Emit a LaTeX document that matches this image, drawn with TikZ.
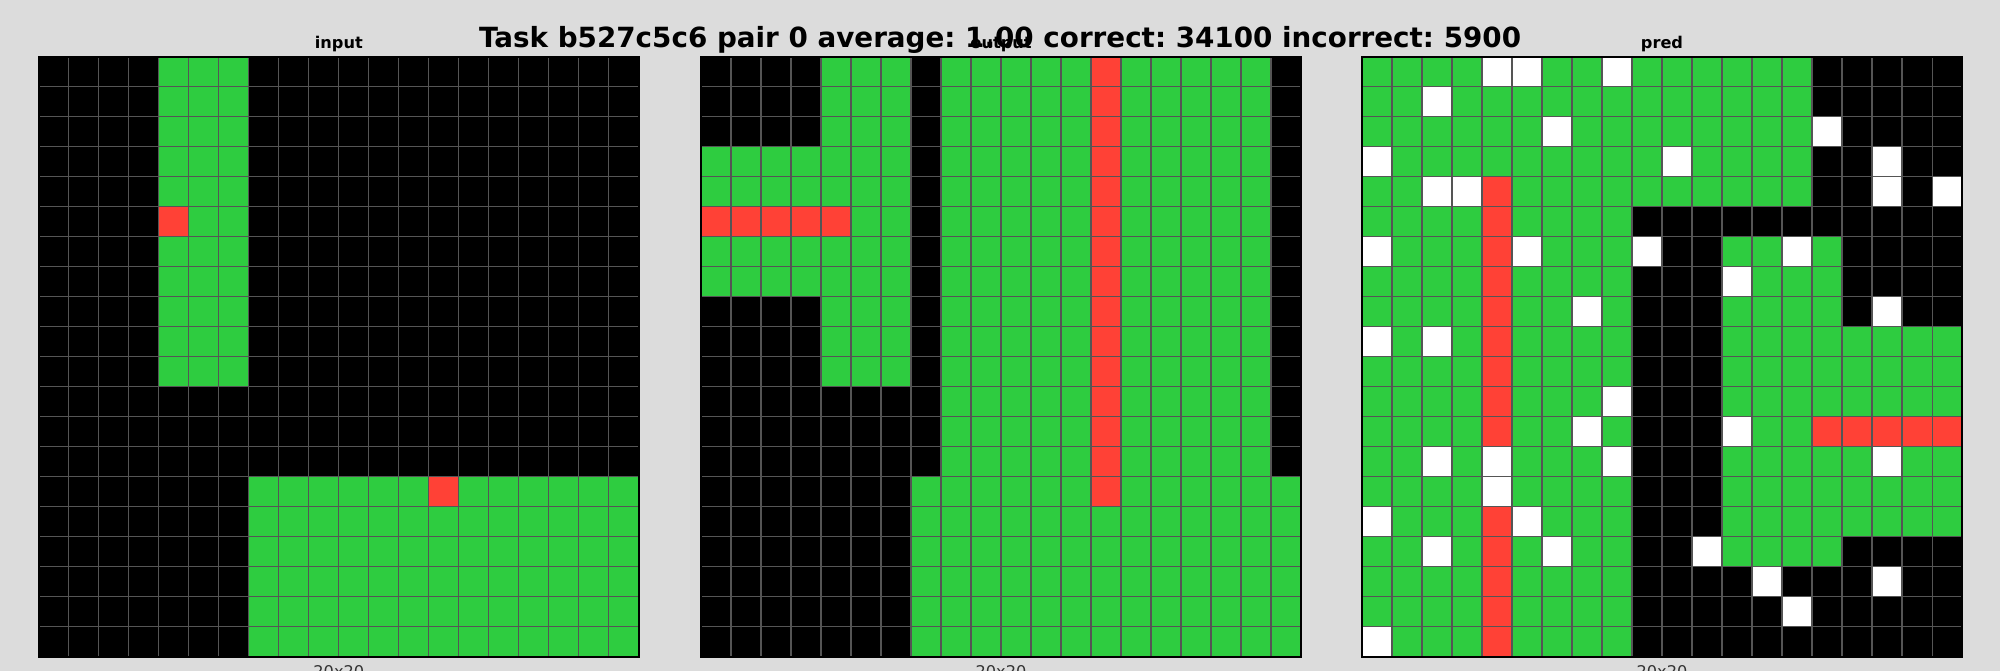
\documentclass[tikz,border=0pt]{standalone}
\usepackage{fontspec}
\setmainfont{DejaVu Sans}
\frenchspacing

\definecolor{fundo}{HTML}{DCDCDC}
\definecolor{linha}{HTML}{555555}
\definecolor{cK}{HTML}{000000}
\definecolor{cG}{HTML}{2ECC40}
\definecolor{cR}{HTML}{FF4136}
\definecolor{cW}{HTML}{FFFFFF}

% Grade 20x20: cada linha e uma lista de cores (K, G, R, W)
\newcommand{\grade}[1]{%
  \foreach \linhas [count=\i from 0] in {#1} {
    \foreach \cor [count=\j from 0] in \linhas
      \fill[c\cor] (\j*30,\i*30) rectangle ++(30,30);
  }
  \foreach \k in {0,...,20} {
    \draw[linhagrade] (\k*30,0) -- (\k*30,600);
    \draw[linhagrade] (0,\k*30) -- (600,\k*30);
  }
  \draw[bordagrade] (0,0) rectangle (600,600);
}

\begin{document}
\begin{tikzpicture}[x=0.01cm, y=-0.01cm]

  % ── Estilos ────────────────────────────────────────────
  \tikzset{
    linhagrade/.style = {draw=linha, line width=0.3pt},
    bordagrade/.style = {draw=black, line width=0.45pt},
    titulo/.style = {font=\fontsize{7.9}{9}\selectfont\bfseries, inner sep=0pt, anchor=base},
    subtitulo/.style = {font=\fontsize{4.6}{5.5}\selectfont\bfseries, inner sep=0pt, anchor=base},
    dimensao/.style = {font=\fontsize{4.6}{5.5}\selectfont, text=black!80, inner sep=0pt, anchor=base}
  }

  % Fundo e limites da figura
  \fill[fundo] (0,0) rectangle (2000,671);
  \clip (0,0) rectangle (2000,671);

  % =========================================================
  % 1. INPUT
  % =========================================================
  \begin{scope}[shift={(38.8,56.8)}]
    \grade{
      {K,K,K,K,G,G,G,K,K,K,K,K,K,K,K,K,K,K,K,K},
      {K,K,K,K,G,G,G,K,K,K,K,K,K,K,K,K,K,K,K,K},
      {K,K,K,K,G,G,G,K,K,K,K,K,K,K,K,K,K,K,K,K},
      {K,K,K,K,G,G,G,K,K,K,K,K,K,K,K,K,K,K,K,K},
      {K,K,K,K,G,G,G,K,K,K,K,K,K,K,K,K,K,K,K,K},
      {K,K,K,K,R,G,G,K,K,K,K,K,K,K,K,K,K,K,K,K},
      {K,K,K,K,G,G,G,K,K,K,K,K,K,K,K,K,K,K,K,K},
      {K,K,K,K,G,G,G,K,K,K,K,K,K,K,K,K,K,K,K,K},
      {K,K,K,K,G,G,G,K,K,K,K,K,K,K,K,K,K,K,K,K},
      {K,K,K,K,G,G,G,K,K,K,K,K,K,K,K,K,K,K,K,K},
      {K,K,K,K,G,G,G,K,K,K,K,K,K,K,K,K,K,K,K,K},
      {K,K,K,K,K,K,K,K,K,K,K,K,K,K,K,K,K,K,K,K},
      {K,K,K,K,K,K,K,K,K,K,K,K,K,K,K,K,K,K,K,K},
      {K,K,K,K,K,K,K,K,K,K,K,K,K,K,K,K,K,K,K,K},
      {K,K,K,K,K,K,K,G,G,G,G,G,G,R,G,G,G,G,G,G},
      {K,K,K,K,K,K,K,G,G,G,G,G,G,G,G,G,G,G,G,G},
      {K,K,K,K,K,K,K,G,G,G,G,G,G,G,G,G,G,G,G,G},
      {K,K,K,K,K,K,K,G,G,G,G,G,G,G,G,G,G,G,G,G},
      {K,K,K,K,K,K,K,G,G,G,G,G,G,G,G,G,G,G,G,G},
      {K,K,K,K,K,K,K,G,G,G,G,G,G,G,G,G,G,G,G,G}}
    \node[subtitulo] (rotinput) at (300,-8.5) {input};
    \node[dimensao] (diminput) at (300,621) {20x20};
  \end{scope}

  % =========================================================
  % 2. OUTPUT
  % =========================================================
  \begin{scope}[shift={(701,56.8)}]
    \grade{
      {K,K,K,K,G,G,G,K,G,G,G,G,G,R,G,G,G,G,G,K},
      {K,K,K,K,G,G,G,K,G,G,G,G,G,R,G,G,G,G,G,K},
      {K,K,K,K,G,G,G,K,G,G,G,G,G,R,G,G,G,G,G,K},
      {G,G,G,G,G,G,G,K,G,G,G,G,G,R,G,G,G,G,G,K},
      {G,G,G,G,G,G,G,K,G,G,G,G,G,R,G,G,G,G,G,K},
      {R,R,R,R,R,G,G,K,G,G,G,G,G,R,G,G,G,G,G,K},
      {G,G,G,G,G,G,G,K,G,G,G,G,G,R,G,G,G,G,G,K},
      {G,G,G,G,G,G,G,K,G,G,G,G,G,R,G,G,G,G,G,K},
      {K,K,K,K,G,G,G,K,G,G,G,G,G,R,G,G,G,G,G,K},
      {K,K,K,K,G,G,G,K,G,G,G,G,G,R,G,G,G,G,G,K},
      {K,K,K,K,G,G,G,K,G,G,G,G,G,R,G,G,G,G,G,K},
      {K,K,K,K,K,K,K,K,G,G,G,G,G,R,G,G,G,G,G,K},
      {K,K,K,K,K,K,K,K,G,G,G,G,G,R,G,G,G,G,G,K},
      {K,K,K,K,K,K,K,K,G,G,G,G,G,R,G,G,G,G,G,K},
      {K,K,K,K,K,K,K,G,G,G,G,G,G,R,G,G,G,G,G,G},
      {K,K,K,K,K,K,K,G,G,G,G,G,G,G,G,G,G,G,G,G},
      {K,K,K,K,K,K,K,G,G,G,G,G,G,G,G,G,G,G,G,G},
      {K,K,K,K,K,K,K,G,G,G,G,G,G,G,G,G,G,G,G,G},
      {K,K,K,K,K,K,K,G,G,G,G,G,G,G,G,G,G,G,G,G},
      {K,K,K,K,K,K,K,G,G,G,G,G,G,G,G,G,G,G,G,G}}
    \node[subtitulo] (rotoutput) at (300,-8.5) {output};
    \node[dimensao] (dimoutput) at (300,621) {20x20};
  \end{scope}

  % =========================================================
  % 3. PRED
  % =========================================================
  \begin{scope}[shift={(1362,56.8)}]
    \grade{
      {G,G,G,G,W,W,G,G,W,G,G,G,G,G,G,K,K,K,K,K},
      {G,G,W,G,G,G,G,G,G,G,G,G,G,G,G,K,K,K,K,K},
      {G,G,G,G,G,G,W,G,G,G,G,G,G,G,G,W,K,K,K,K},
      {W,G,G,G,G,G,G,G,G,G,W,G,G,G,G,K,K,W,K,K},
      {G,G,W,W,R,G,G,G,G,G,G,G,G,G,G,K,K,W,K,W},
      {G,G,G,G,R,G,G,G,G,K,K,K,K,K,K,K,K,K,K,K},
      {W,G,G,G,R,W,G,G,G,W,K,K,G,G,W,G,K,K,K,K},
      {G,G,G,G,R,G,G,G,G,K,K,K,W,G,G,G,K,K,K,K},
      {G,G,G,G,R,G,G,W,G,K,K,K,G,G,G,G,K,W,K,K},
      {W,G,W,G,R,G,G,G,G,K,K,K,G,G,G,G,G,G,G,G},
      {G,G,G,G,R,G,G,G,G,K,K,K,G,G,G,G,G,G,G,G},
      {G,G,G,G,R,G,G,G,W,K,K,K,G,G,G,G,G,G,G,G},
      {G,G,G,G,R,G,G,W,G,K,K,K,W,G,G,R,R,R,R,R},
      {G,G,W,G,W,G,G,G,W,K,K,K,G,G,G,G,G,W,G,G},
      {G,G,G,G,W,G,G,G,G,K,K,K,G,G,G,G,G,G,G,G},
      {W,G,G,G,R,W,G,G,G,K,K,K,G,G,G,G,G,G,G,G},
      {G,G,W,G,R,G,W,G,G,K,K,W,G,G,G,G,K,K,K,K},
      {G,G,G,G,R,G,G,G,G,K,K,K,K,W,K,K,K,W,K,K},
      {G,G,G,G,R,G,G,G,G,K,K,K,K,K,W,K,K,K,K,K},
      {W,G,G,G,R,G,G,G,G,K,K,K,K,K,K,K,K,K,K,K}}
    \node[subtitulo] (rotpred) at (300,-8.5) {pred};
    \node[dimensao] (dimpred) at (300,621) {20x20};
  \end{scope}

  % Titulo geral por cima de tudo
  \node[titulo] (titulo) at (1000,47.5) {Task b527c5c6 pair 0 average: 1.00 correct: 34100 incorrect: 5900};

\end{tikzpicture}
\end{document}
